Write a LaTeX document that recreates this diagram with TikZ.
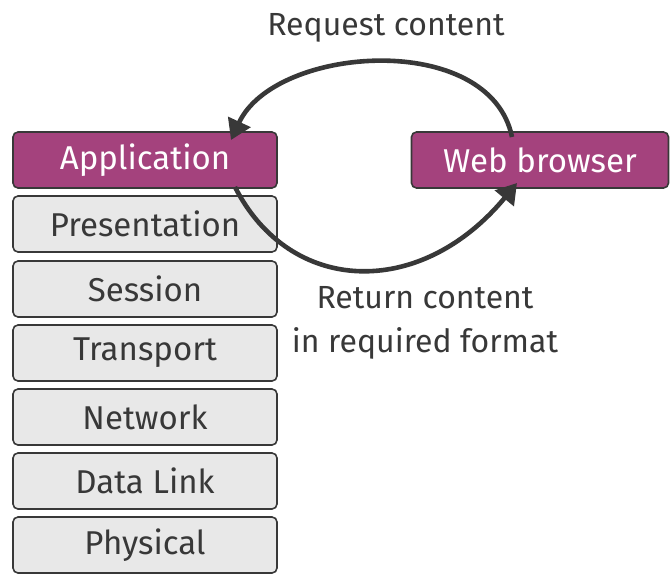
\documentclass[tikz,border=0pt]{standalone}
\usepackage{fontspec}
\setmainfont{Fira Sans}
\usetikzlibrary{arrows.meta}
\definecolor{appmagenta}{HTML}{A4427D}
\definecolor{layergray}{HTML}{E8E8E8}
\definecolor{darkline}{HTML}{383838}
\begin{document}
\begin{tikzpicture}[x=1pt,y=-1pt]
	\useasboundingbox (0,0) rectangle (670,576);
	\begin{scope}[every node/.style={draw=darkline,line width=1.6pt,rounded corners=5pt,fill=layergray,text=darkline,minimum width=264pt,minimum height=56pt,font=\fontsize{33}{36}\selectfont}]
		\node (app) at (145,160) [fill=appmagenta,text=white] {Application};
		\node (pres) at (145,224) {Presentation};
		\node (sess) at (145,289) {Session};
		\node (trans) at (145,353) {Transport};
		\node (net) at (145,417) {Network};
		\node (link) at (145,481) {Data Link};
		\node (phys) at (145,545) {Physical};
		\node (web) at (540,160) [fill=appmagenta,text=white,minimum width=257pt] {Web browser};
	\end{scope}
	
	\begin{scope}[every node/.style={text=darkline,font=\fontsize{32}{44}\selectfont,align=center}]
		\node (req) at (386,28) {Request content};
		\node (ret) at (425,323) {Return content\\in required format};
	\end{scope}
	
	\coordinate (webtop) at (512,137);
	\coordinate (apptop) at (231,140);
	\coordinate (appbot) at (235,187);
	\coordinate (webbot) at (517,183);
	\draw [darkline,line width=4.6pt,-{Triangle[length=20pt,width=24pt]}] (webtop) .. controls (490,30) and (275,45) .. (apptop);
	\draw [darkline,line width=4.6pt,-{Triangle[length=20pt,width=24pt]}] (appbot) .. controls (290,295) and (420,300) .. (webbot);
\end{tikzpicture}
\end{document}
